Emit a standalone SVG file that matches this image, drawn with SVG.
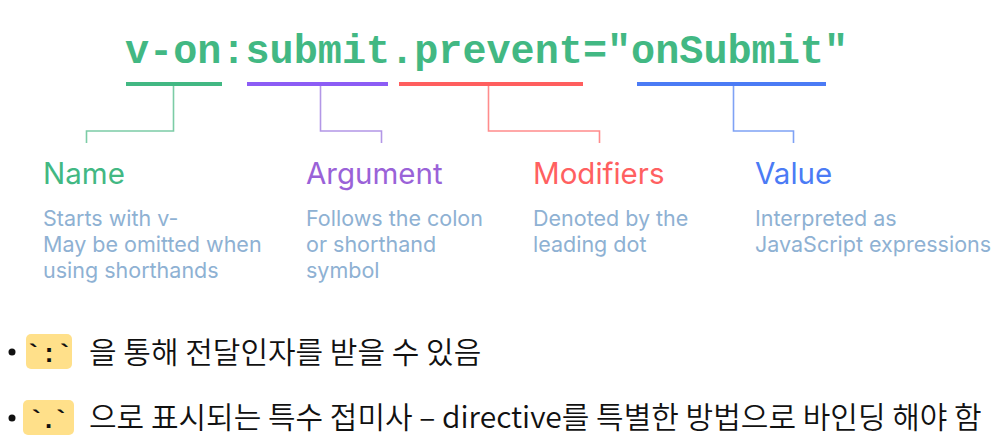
<svg xmlns="http://www.w3.org/2000/svg" width="1006" height="442" viewBox="0 0 1006 442">
<style>
.code{font-family:"Liberation Mono","DejaVu Sans Mono",monospace;font-weight:bold;font-size:40px;fill:#42b883}
.bar{stroke-width:4;fill:none}
.conn{stroke-width:1.6;fill:none}
.head{font-family:Inter,"Noto Sans",sans-serif;font-size:29.5px}
.desc{font-family:Inter,"Noto Sans",sans-serif;font-size:21.5px;fill:#8eb1d3}
.kr{font-family:"Noto Sans CJK KR","Noto Sans",sans-serif;font-size:30px;font-weight:350;fill:#111}
.tick{font-family:"Liberation Mono","DejaVu Sans Mono",monospace;font-size:26px;font-weight:bold;fill:#111}
.chip{fill:#ffe08a}
</style>
<rect width="1006" height="442" fill="#fff"/>
<g id="code">
<text class="code" x="125" y="63" textLength="723" lengthAdjust="spacingAndGlyphs">v-on:submit.prevent="onSubmit"</text>
</g>
<g id="connectors">
<line class="bar" x1="126" y1="84" x2="222" y2="84" stroke="#42b883"/>
<line class="bar" x1="247" y1="84" x2="388" y2="84" stroke="#8c5cf5"/>
<line class="bar" x1="399" y1="84" x2="583" y2="84" stroke="#ff5e5e"/>
<line class="bar" x1="637" y1="84" x2="826" y2="84" stroke="#4b7bf5"/>
<polyline class="conn" points="173.5,86 173.5,131 86.5,131 86.5,143" stroke="#7ccca6"/>
<polyline class="conn" points="320.5,86 320.5,131 381.5,131 381.5,143" stroke="#b397e6"/>
<polyline class="conn" points="488.5,86 488.5,131 599.5,131 599.5,143" stroke="#ff8c8c"/>
<polyline class="conn" points="733.5,86 733.5,131 793.5,131 793.5,143" stroke="#7fa2f5"/>
</g>
<g id="name">
<text class="head" x="43" y="184" fill="#42b883">Name</text>
<text class="desc" x="43" y="226">Starts with v-</text>
<text class="desc" x="43" y="252">May be omitted when</text>
<text class="desc" x="43" y="278">using shorthands</text>
</g>
<g id="argument">
<text class="head" x="306" y="184" fill="#9a62d8">Argument</text>
<text class="desc" x="306" y="226">Follows the colon</text>
<text class="desc" x="306" y="252">or shorthand</text>
<text class="desc" x="306" y="278">symbol</text>
</g>
<g id="modifiers">
<text class="head" x="533" y="184" fill="#ff6060">Modifiers</text>
<text class="desc" x="533" y="226">Denoted by the</text>
<text class="desc" x="533" y="252">leading dot</text>
</g>
<g id="value">
<text class="head" x="755" y="184" fill="#4b7bf5">Value</text>
<text class="desc" x="755" y="226">Interpreted as</text>
<text class="desc" x="755" y="252">JavaScript expressions</text>
</g>
<g id="bullet1">
<circle cx="12" cy="352" r="3.5" fill="#111"/>
<rect class="chip" x="26" y="334" width="46" height="35" rx="5"/>
<text class="tick" x="49" y="362" text-anchor="middle">`:`</text>
<text class="kr" x="89" y="363">을 통해 전달인자를 받을 수 있음</text>
</g>
<g id="bullet2">
<circle cx="12" cy="418" r="3.5" fill="#111"/>
<rect class="chip" x="23" y="400" width="51" height="35" rx="5"/>
<text class="tick" x="48.5" y="428" text-anchor="middle" textLength="40">`.`</text>
<text class="kr" x="89" y="428">으로 표시되는 특수 접미사 – directive를 특별한 방법으로 바인딩 해야 함</text>
</g>
</svg>
